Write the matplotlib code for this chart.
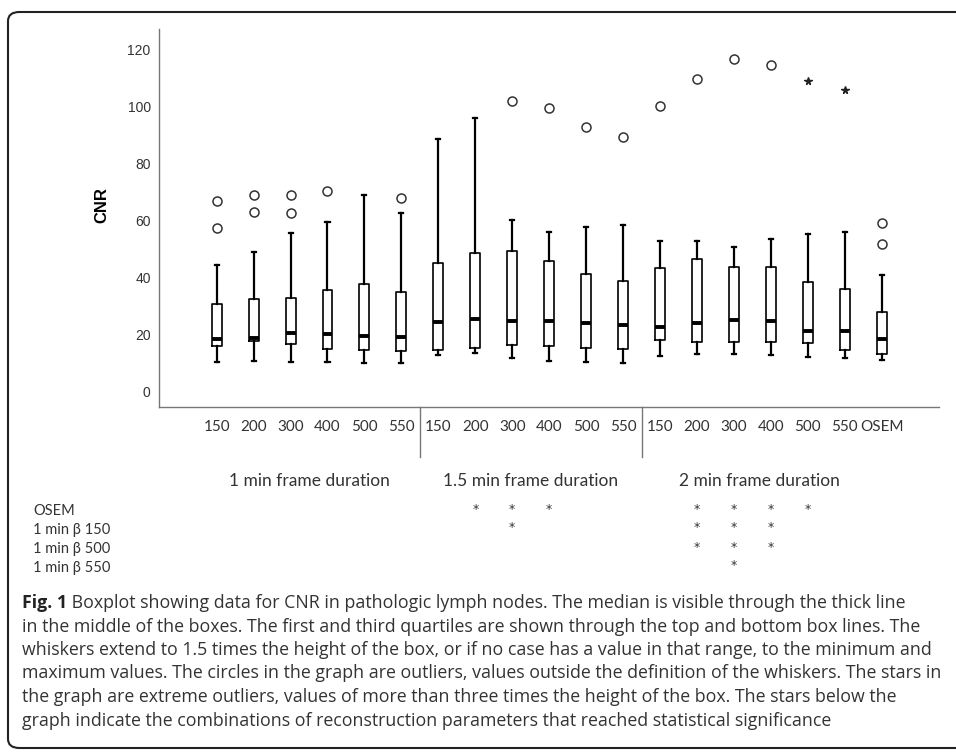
import matplotlib
matplotlib.use("Agg")
import matplotlib.pyplot as plt
from matplotlib.patches import FancyBboxPatch
from matplotlib.transforms import blended_transform_factory

# box statistics for CNR
labels = ['150', '200', '300', '400', '500', '550',
          '150', '200', '300', '400', '500', '550',
          '150', '200', '300', '400', '500', '550', 'OSEM']
whislo = [10.2, 10.5, 10.4, 10.2, 10.0, 10.0, 12.8, 13.4, 11.7, 10.5,
          10.2, 9.7, 12.4, 13.1, 13.1, 12.8, 12.0, 11.6, 10.8]
q1 = [15.7, 17.5, 16.7, 14.9, 14.3, 14.0, 14.3, 15.3, 16.1, 15.8,
      15.3, 14.9, 18.1, 17.1, 17.2, 17.1, 16.8, 14.3, 13.1]
med = [18.4, 18.8, 20.5, 20.2, 19.3, 19.0, 24.3, 25.4, 24.6, 24.6,
       23.8, 23.3, 22.4, 23.8, 25.0, 24.6, 21.0, 21.0, 18.4]
q3 = [30.7, 32.5, 32.8, 35.6, 37.7, 35.0, 45.0, 48.6, 49.2, 45.6,
      41.0, 38.8, 43.4, 46.3, 43.7, 43.5, 38.3, 35.9, 27.8]
whishi = [44.4, 48.9, 55.5, 59.6, 69.1, 62.7, 88.5, 96.1, 60.0, 55.8,
          57.6, 58.3, 52.6, 52.7, 50.8, 53.4, 55.3, 55.9, 40.9]
outliers = [[67.0, 57.5], [68.8, 62.9], [68.8, 62.6], [70.3], [], [67.8],
            [], [], [101.9], [99.5], [93.0], [89.5],
            [100.4], [109.9], [116.9], [114.8], [], [], [59.2, 51.6]]
extremes = [[], [], [], [], [], [], [], [], [], [], [], [],
            [], [], [], [], [109.0], [106.0], []]

groups = ['1 min frame duration', '1.5 min frame duration', '2 min frame duration']
group_pos = [3.5, 9.5, 15.7]
group_breaks = [6.5, 12.5]

# significance table below the graph (box numbers with a star)
sig_rows = ['OSEM', '1 min β 150', '1 min β 500', '1 min β 550']
sig_cols = [[8, 9, 10, 14, 15, 16, 17], [9, 14, 15, 16], [14, 15, 16], [15]]

caption_bold = 'Fig. 1'
caption_lines = [
    ' Boxplot showing data for CNR in pathologic lymph nodes. The median is visible through the thick line',
    'in the middle of the boxes. The first and third quartiles are shown through the top and bottom box lines. The',
    'whiskers extend to 1.5 times the height of the box, or if no case has a value in that range, to the minimum and',
    'maximum values. The circles in the graph are outliers, values outside the definition of the whiskers. The stars in',
    'the graph are extreme outliers, values of more than three times the height of the box. The stars below the',
    'graph indicate the combinations of reconstruction parameters that reached statistical significance',
]

W, H = 956, 752
fig = plt.figure(figsize=(W / 100, H / 100), dpi=100)
ax = fig.add_axes([159 / W, 1 - 407.3 / H, 780 / W, 378 / H])

pos = list(range(1, len(labels) + 1))
stats = []
for i in range(len(labels)):
    stats.append(dict(med=med[i], q1=q1[i], q3=q3[i], whislo=whislo[i],
                      whishi=whishi[i], fliers=outliers[i], label=labels[i]))

ax.bxp(stats, positions=pos, widths=0.27, showfliers=True,
       boxprops=dict(color='black', linewidth=1.2),
       whiskerprops=dict(color='black', linewidth=1.6),
       capprops=dict(color='black', linewidth=1.6),
       capwidths=0.11,
       medianprops=dict(color='black', linewidth=2.8, solid_capstyle='butt'),
       flierprops=dict(marker='o', markerfacecolor='none', markeredgecolor='#333333',
                       markersize=6.5, markeredgewidth=1.1))

for p, ex in zip(pos, extremes):
    if ex:
        ax.plot([p] * len(ex), ex, linestyle='none', marker='*', color='#222222',
                markersize=5.5)

ax.set_xlim(-0.56, 20.55)
ax.set_ylim(-5.7, 127.2)
ax.set_yticks([0, 20, 40, 60, 80, 100, 120])
ax.tick_params(axis='y', length=0, pad=6, labelsize=10, labelcolor='#333333')
for t in ax.get_yticklabels():
    t.set_family('Liberation Sans')
ax.set_xticks(pos)
ax.set_xticklabels(labels, family='Lato', fontsize=11, color='#333333')
ax.tick_params(axis='x', length=0, pad=9)

for s in ['top', 'right']:
    ax.spines[s].set_visible(False)
for s in ['left', 'bottom']:
    ax.spines[s].set_color('#777777')
    ax.spines[s].set_linewidth(1.0)

ax.set_ylabel('CNR', fontsize=12, fontweight='bold', family='Liberation Sans')
ax.yaxis.set_label_coords(-0.063, 0.535)

tr = blended_transform_factory(ax.transData, ax.transAxes)
for b in group_breaks:
    ax.plot([b, b], [0, -0.131], transform=tr, color='#777777', linewidth=1.0,
            clip_on=False)

trf = blended_transform_factory(ax.transData, fig.transFigure)
for name, gp in zip(groups, group_pos):
    ax.text(gp, 1 - 481 / H, name, transform=trf, ha='center', va='center',
            family='Lato', fontsize=12.5, color='#333333')

row_y = [511, 530, 549, 568]
for name, cols, y in zip(sig_rows, sig_cols, row_y):
    fig.text(33 / W, 1 - y / H, name, ha='left', va='center',
             family=['Lato', 'DejaVu Sans'], fontsize=10.5, color='#333333')
    for c in cols:
        ax.text(c, 1 - (y - 2) / H, '*', transform=trf, ha='center', va='center',
                fontsize=9, color='#333333')

# caption
cap_y = [603, 626.5, 650, 673.5, 697, 720.5]
cap_size = 12.8
renderer = fig.canvas.get_renderer()
fb = fig.text(22 / W, 1 - cap_y[0] / H, caption_bold, ha='left', va='center',
              family='Open Sans', fontweight='bold', fontsize=cap_size, color='#222222')
bb = fb.get_window_extent(renderer)
fig.text(bb.x1 / W, 1 - cap_y[0] / H, caption_lines[0], ha='left', va='center',
         family='Open Sans', fontsize=cap_size, color='#333333')
for line, y in zip(caption_lines[1:], cap_y[1:]):
    fig.text(22 / W, 1 - y / H, line, ha='left', va='center',
             family='Open Sans', fontsize=cap_size, color='#333333')

frame = FancyBboxPatch((8 / W, 4 / H), 1.2, 1 - 16 / H,
                       boxstyle='round,pad=0,rounding_size=0.012',
                       transform=fig.transFigure, fill=False,
                       edgecolor='#222222', linewidth=1.5, clip_on=False)
fig.patches.append(frame)

fig.savefig('out.png', dpi=100)
